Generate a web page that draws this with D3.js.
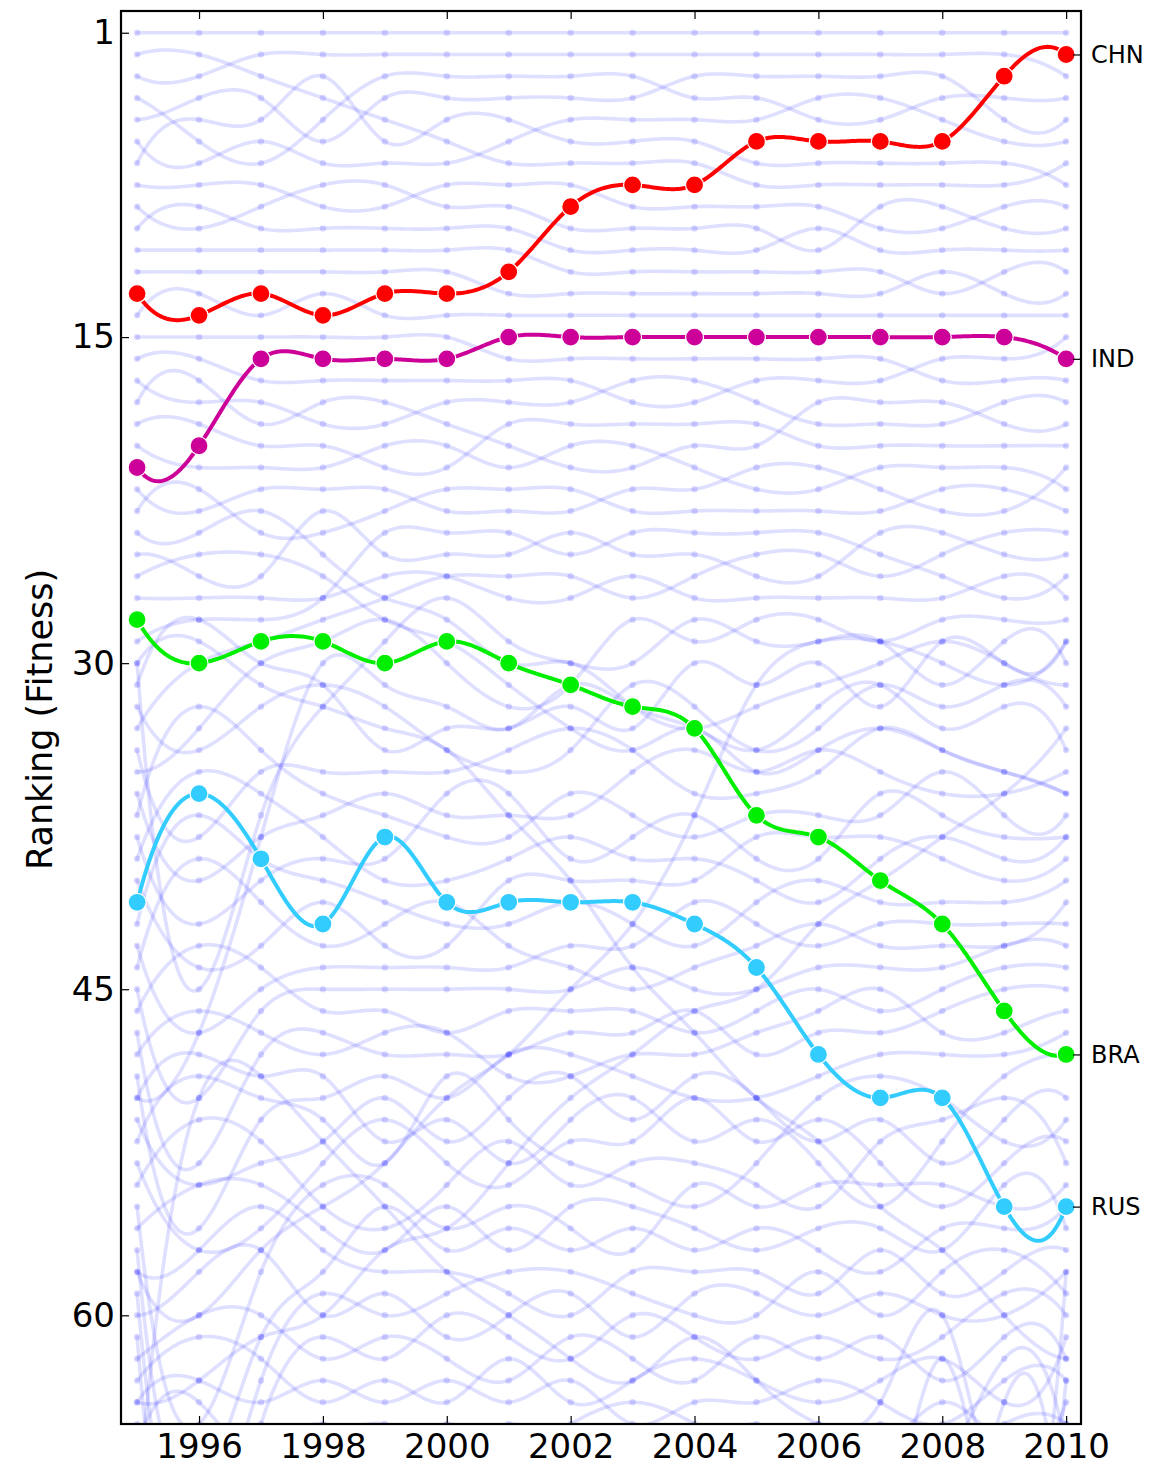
<!DOCTYPE html>
<html><head><meta charset="utf-8">
<script src="https://cdn.jsdelivr.net/npm/d3@7"></script>
<style>
body{margin:0;background:#fff}
svg{display:block}
text{font-family:"DejaVu Sans",sans-serif;fill:#000}
</style>
</head><body>
<svg id="chart" width="1167" height="1466"></svg>
<script>
// ---------------- data ----------------
const years = [1995,1996,1997,1998,1999,2000,2001,2002,2003,2004,2005,2006,2007,2008,2009,2010];
const xTickValues = [1996,1998,2000,2002,2004,2006,2008,2010];
const yTickValues = [1,15,30,45,60];
const yLabel = "Ranking (Fitness)";

const chnRanks = [13,14,13,14,13,13,12,9,8,8,6,6,6,6,3,2];
const indRanks = [21,20,16,16,16,16,15,15,15,15,15,15,15,15,15,16];
const braRanks = [28,30,29,29,30,29,30,31,32,33,37,38,40,42,46,48];
const rusRanks = [41,36,39,42,38,41,41,41,41,42,44,48,50,50,55,55];

const highlightCodes = ["CHN","IND","BRA","RUS"];
const highlightColors = ["#ff0000","#cc0099","#00ee00","#33ccff"];

// other countries (faint background lines)
const otherRanks = [
  [1,1,1,1,1,1,1,1,1,1,1,1,1,1,1,1],
  [2,2,3,4,5,6,7,7,7,7,8,8,8,8,8,7],
  [3,3,2,2,2,2,2,2,2,2,2,2,2,2,2,3],
  [4,6,7,5,3,3,3,3,3,4,4,5,5,4,4,4],
  [5,4,4,6,4,4,4,4,4,3,3,3,3,3,5,5],
  [6,7,6,7,7,7,6,5,5,5,5,4,4,5,6,6],
  [7,5,5,3,6,5,5,6,6,6,7,7,7,7,7,8],
  [8,8,8,9,9,8,8,8,9,9,9,9,10,10,9,9],
  [9,10,9,8,8,9,9,10,10,10,10,11,9,9,10,10],
  [10,9,10,10,10,10,10,11,11,11,11,10,11,11,11,11],
  [11,11,11,11,11,11,11,12,12,12,12,12,12,13,12,12],
  [12,12,12,12,12,12,13,13,13,13,13,13,13,12,13,13],
  [14,13,14,13,14,14,14,14,14,14,14,14,14,14,14,14],
  [15,15,15,15,15,15,16,16,16,16,16,16,16,17,17,17],
  [16,16,17,17,17,17,17,17,18,18,17,17,17,16,16,15],
  [17,18,18,19,19,18,18,18,17,17,18,19,19,19,18,18],
  [18,17,19,18,18,19,20,21,21,20,20,18,18,18,19,19],
  [19,19,20,20,21,21,19,19,19,19,19,20,20,20,20,20],
  [20,21,21,21,20,20,21,20,20,21,22,22,21,21,21,22],
  [22,23,22,22,22,23,23,23,22,22,21,21,22,23,23,21],
  [23,22,24,24,23,22,22,22,23,23,23,23,23,22,22,23],
  [24,24,23,25,27,28,30,30,32,33,32,31,30,29,30,31],
  [25,26,26,23,25,25,25,24,25,25,26,26,24,24,25,25],
  [26,25,25,26,28,29,31,33,34,33,35,34,33,34,35,36],
  [27,27,27,27,26,26,27,27,26,27,27,27,27,27,26,27],
  [29,28,28,27,24,24,24,25,24,24,24,24,25,26,27,26],
  [30,45,37,32,29,27,29,30,30,28,29,29,29,31,29,30],
  [31,28,30,31,34,33,33,32,33,30,31,30,32,29,30,29],
  [32,34,32,31,32,34,35,34,31,32,34,33,31,32,31,32],
  [33,30,29,28,27,26,26,26,27,26,25,25,26,25,24,24],
  [34,38,35,35,35,35,34,33,34,36,36,35,33,34,35,36],
  [35,33,30,29,28,30,32,31,28,29,28,28,29,28,28,28],
  [36,40,38,37,36,37,37,37,35,34,35,34,35,36,36,35],
  [37,32,34,36,37,38,38,36,37,38,37,37,37,35,37,37],
  [38,42,40,39,39,36,36,39,38,37,39,39,36,37,38,38],
  [39,35,36,38,40,40,39,38,39,39,40,41,39,38,39,38],
  [40,44,43,41,43,43,40,40,40,40,38,38,38,39,40,39],
  [42,37,39,40,41,42,42,41,42,43,41,40,41,41,41,40],
  [43,47,45,44,44,44,44,43,43,41,42,43,42,42,42,42],
  [44,39,41,43,42,41,43,44,45,44,43,42,43,43,43,41],
  [45,50,46,45,45,45,45,45,44,45,45,44,44,44,43,43],
  [46,43,44,46,46,47,46,46,46,47,46,45,46,45,44,44],
  [47,53,48,47,48,48,48,47,47,46,48,47,47,46,45,45],
  [48,46,47,48,47,47,49,49,48,48,47,46,45,47,47,46],
  [49,56,51,50,49,50,48,48,49,50,50,49,48,48,48,47],
  [50,48,49,49,52,51,53,51,50,52,51,53,55,52,49,48],
  [51,54,53,52,50,52,50,49,51,49,50,52,51,53,51,50],
  [52,49,50,51,53,49,51,53,54,55,53,50,49,50,52,51],
  [53,57,56,53,51,53,54,52,52,50,52,51,53,55,53,52],
  [54,51,52,55,56,54,52,54,53,53,54,55,52,51,50,53],
  [55,65,58,54,54,56,55,56,57,54,55,54,54,54,55,54],
  [56,54,54,56,57,55,57,55,55,56,57,56,56,57,54,56],
  [57,68,61,58,55,57,56,57,56,57,56,57,58,56,56,55],
  [58,57,55,57,58,58,59,60,58,58,58,59,57,59,58,57],
  [59,71,63,59,60,59,58,58,59,60,60,58,60,58,57,59],
  [60,58,57,60,59,61,60,59,61,59,59,60,59,60,60,58],
  [61,74,65,61,62,60,61,62,60,61,62,61,62,61,59,60],
  [62,60,60,62,61,62,63,61,62,63,61,62,61,63,61,62],
  [63,61,62,64,63,64,62,64,63,62,63,64,63,62,64,61],
  [64,63,64,63,64,63,64,63,65,64,64,63,64,65,63,63],
  [65,66,66,65,66,65,66,65,64,65,66,65,66,64,66,64],
  [66,64,67,66,65,66,65,66,66,66,65,66,65,66,65,65],
  [67,69,68,67,67,68,67,68,67,68,67,67,68,67,62,66],
  [68,67,69,70,68,67,69,67,68,67,68,69,67,70,75,63],
  [69,50,49,52,55,58,60,62,63,61,63,65,64,60,70,58],
  [70,72,74,69,70,70,70,70,71,70,70,71,70,73,64,72],
  [71,73,71,71,71,71,71,71,70,71,71,70,71,62,73,65],
  [72,75,73,72,72,72,72,72,72,72,72,72,72,71,68,74],
  [58,60,57,55,53,50,48,45,42,37,31,29,29,30,31,29],
  [30,29,31,32,33,34,37,40,44,47,50,52,55,57,60,62],
  [64,63,61,60,57,56,53,50,48,46,45,42,40,38,36,33],
  [50,47,38,30,31,32,33,31,32,33,34,32,31,33,32,34]
];

// ---------------- spline (not-a-knot cubic, unit spacing) ----------------
function splineSamples(ys, steps) {
  const n = ys.length;
  const A = [], b = [];
  for (let i = 0; i < n; i++) { A.push(new Array(n).fill(0)); b.push(0); }
  A[0][0] = 1; A[0][1] = -2; A[0][2] = 1;
  for (let i = 1; i < n - 1; i++) {
    A[i][i-1] = 1; A[i][i] = 4; A[i][i+1] = 1;
    b[i] = 6 * (ys[i-1] - 2*ys[i] + ys[i+1]);
  }
  A[n-1][n-3] = 1; A[n-1][n-2] = -2; A[n-1][n-1] = 1;
  for (let c = 0; c < n; c++) {
    let p = c;
    for (let r = c + 1; r < n; r++) if (Math.abs(A[r][c]) > Math.abs(A[p][c])) p = r;
    [A[c], A[p]] = [A[p], A[c]]; [b[c], b[p]] = [b[p], b[c]];
    for (let r = c + 1; r < n; r++) {
      const f = A[r][c] / A[c][c];
      if (f === 0) continue;
      for (let k = c; k < n; k++) A[r][k] -= f * A[c][k];
      b[r] -= f * b[c];
    }
  }
  const M = new Array(n).fill(0);
  for (let r = n - 1; r >= 0; r--) {
    let s = b[r];
    for (let k = r + 1; k < n; k++) s -= A[r][k] * M[k];
    M[r] = s / A[r][r];
  }
  const pts = [];
  for (let i = 0; i < n - 1; i++) {
    for (let s = 0; s < steps; s++) {
      const t = s / steps, u = 1 - t;
      const v = u*ys[i] + t*ys[i+1] + ((u*u*u - u)*M[i] + (t*t*t - t)*M[i+1]) / 6;
      pts.push([years[i] + t * (years[i+1] - years[i]), v]);
    }
  }
  pts.push([years[n-1], ys[n-1]]);
  return pts;
}

// ---------------- layout ----------------
const L = 121, R = 1081, T = 11, B = 1424;
const svg = d3.select("#chart");
const x = d3.scaleLinear().domain([1994.74, 2010.24]).range([L, R]);
const y = d3.scaleLinear().domain([0, 65]).range([T, B]);

svg.append("defs").append("clipPath").attr("id","plotclip")
  .append("rect").attr("x",L).attr("y",T).attr("width",R-L).attr("height",B-T);

const plot = svg.append("g").attr("clip-path","url(#plotclip)");
const line = d3.line().x(d => x(d[0])).y(d => y(d[1]));

// background countries
otherRanks.forEach(s => {
  const g = plot.append("g");
  g.append("path").attr("d", line(splineSamples(s, 24))).attr("fill","none")
    .attr("stroke","rgba(0,0,255,0.125)").attr("stroke-width",3.6)
    .attr("stroke-linejoin","round").attr("stroke-linecap","round");
  g.selectAll("circle").data(s).enter().append("circle")
    .attr("cx",(d,i)=>x(years[i])).attr("cy",d=>y(d)).attr("r",3.2)
    .attr("fill","rgba(0,0,255,0.14)");
});

// highlighted countries
const highlightRanks = [chnRanks, indRanks, braRanks, rusRanks];
highlightRanks.forEach((s, k) => {
  const g = plot.append("g");
  g.append("path").attr("d", line(splineSamples(s, 30))).attr("fill","none")
    .attr("stroke", highlightColors[k]).attr("stroke-width",4)
    .attr("stroke-linejoin","round").attr("stroke-linecap","round");
  g.selectAll("circle").data(s).enter().append("circle")
    .attr("cx",(d,i)=>x(years[i])).attr("cy",d=>y(d)).attr("r",9)
    .attr("fill",highlightColors[k]).attr("stroke","#fff").attr("stroke-width",1.2);
});

// axes
function styleAxis(g, fs){
  g.select(".domain").remove();
  g.selectAll(".tick line").attr("stroke","#000").attr("stroke-width",1.2);
  g.selectAll(".tick text").attr("font-size",fs).attr("fill","#000")
    .attr("font-family","DejaVu Sans, sans-serif");
}
const xAxisB = svg.append("g").attr("transform",`translate(0,${B})`)
  .call(d3.axisBottom(x).tickValues(xTickValues).tickSizeInner(-8).tickSizeOuter(0)
    .tickPadding(10).tickFormat(d3.format("d")));
styleAxis(xAxisB, 34);
const xAxisT = svg.append("g").attr("transform",`translate(0,${T})`)
  .call(d3.axisTop(x).tickValues(xTickValues).tickSizeInner(-8).tickSizeOuter(0).tickFormat(""));
styleAxis(xAxisT, 34);
const yAxisL = svg.append("g").attr("transform",`translate(${L},0)`)
  .call(d3.axisLeft(y).tickValues(yTickValues).tickSizeInner(-8).tickSizeOuter(0).tickPadding(6));
styleAxis(yAxisL, 34);
const endRanks = highlightRanks.map(s => s[s.length-1]);
const yAxisR = svg.append("g").attr("transform",`translate(${R},0)`)
  .call(d3.axisRight(y).tickValues(endRanks).tickSizeInner(-8).tickSizeOuter(0).tickPadding(10)
    .tickFormat(d => highlightCodes[endRanks.indexOf(d)]));
styleAxis(yAxisR, 24);

// frame
svg.append("rect").attr("x",L).attr("y",T).attr("width",R-L).attr("height",B-T)
  .attr("fill","none").attr("stroke","#000").attr("stroke-width",2.2);

// y label
svg.append("text").attr("transform",`translate(52,${(T+B)/2+2}) rotate(-90)`)
  .attr("text-anchor","middle").attr("font-size",35).text(yLabel);
</script>
</body></html>
